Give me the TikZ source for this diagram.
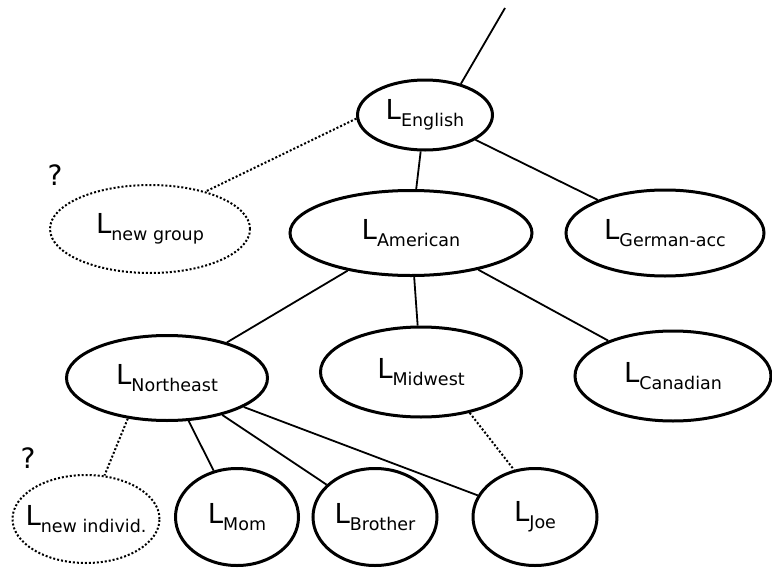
\documentclass[tikz,border=0pt]{standalone}
\usepackage{fontspec}
\setmainfont{DejaVu Sans}
\usetikzlibrary{shapes.geometric}
\newcommand{\lsub}[1]{{\fontsize{27.5}{30}\selectfont L}\raisebox{-7pt}{\fontsize{17.5}{20}\selectfont #1}}
\begin{document}
\begin{tikzpicture}[x=1pt, y=-1pt,
    lang/.style={draw, ellipse, line width=3pt, inner sep=0pt},
    newlang/.style={draw, ellipse, dotted, line width=2pt, inner sep=0pt},
    link/.style={line width=1.8pt},
    maybe/.style={dotted, line width=2pt}]
    \useasboundingbox (0,0) rectangle (772,568);

    \node[lang, minimum width=135, minimum height=70] (english) at (425,115) {\lsub{English}};
    \node[newlang, minimum width=200, minimum height=88] (newgroup) at (150,229) {\lsub{new group}};
    \node[lang, minimum width=242, minimum height=85] (american) at (411,233) {\lsub{American}};
    \node[lang, minimum width=198, minimum height=86] (german) at (665,233) {\lsub{German-acc}};
    \node[lang, minimum width=201, minimum height=85] (northeast) at (167,378) {\lsub{Northeast}};
    \node[lang, minimum width=201, minimum height=90] (midwest) at (421,372) {\lsub{Midwest}};
    \node[lang, minimum width=196, minimum height=90] (canadian) at (673,376) {\lsub{Canadian}};
    \node[newlang, inner xsep=-14pt, minimum width=147, minimum height=88] (newindiv) at (86,519) {\lsub{new individ.}};
    \node[lang, minimum width=123, minimum height=97] (mom) at (237,517) {\lsub{Mom}};
    \node[lang, minimum width=124, minimum height=97] (brother) at (375,517) {\lsub{Brother}};
    \node[lang, minimum width=124, minimum height=97] (joe) at (535,517) {\lsub{Joe}};

    \node[font=\fontsize{28}{30}\selectfont] (q1) at (55,175) {?};
    \node[font=\fontsize{28}{30}\selectfont] (q2) at (28,458) {?};

    \coordinate (root) at (505,8);
    \draw[link] (english.41) -- (root);
    \draw[maybe] (english.183) -- (newgroup.34);
    \foreach \n in {american,german}
      \draw[link] (english) -- (\n);
    \foreach \n in {northeast,midwest,canadian}
      \draw[link] (american) -- (\n);
    \foreach \n in {mom,brother,joe}
      \draw[link] (northeast) -- (\n);
    \draw[maybe] (northeast.226) -- (newindiv.67);
    \draw[maybe] (midwest.320) -- (joe.114);
  \end{tikzpicture}
\end{document}
